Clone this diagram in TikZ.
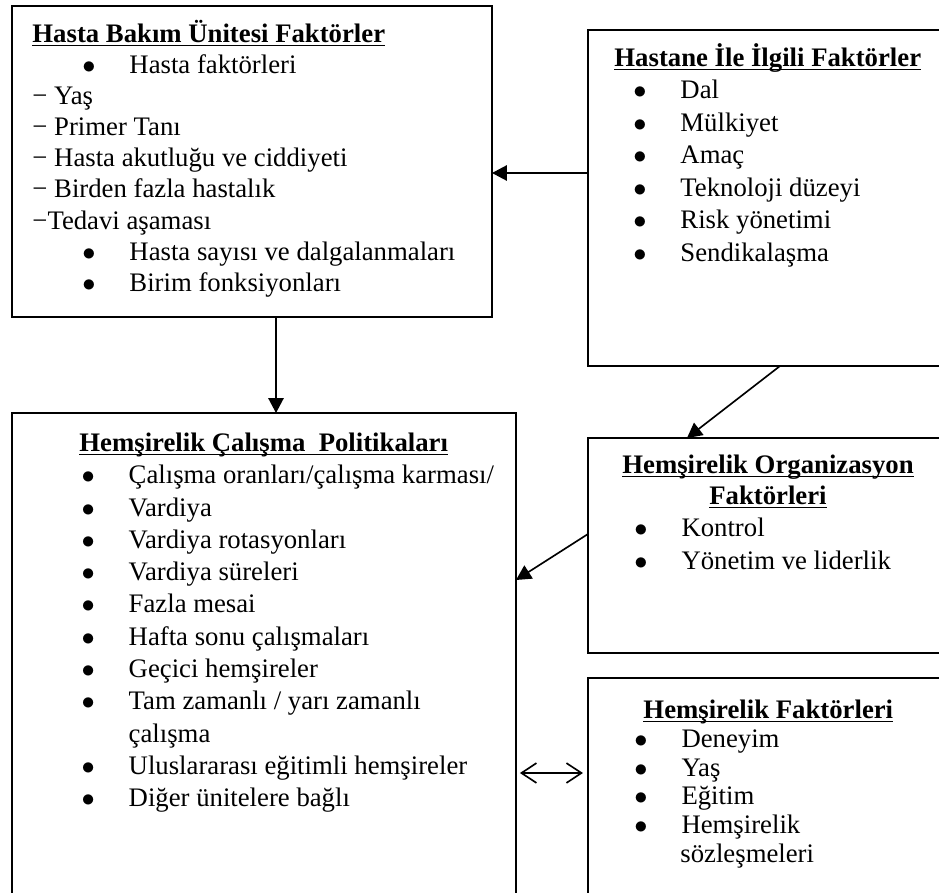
\documentclass[tikz,border=0pt]{standalone}
\usepackage{fontspec}
\setmainfont{Liberation Serif}
\usetikzlibrary{arrows.meta}

\newcommand{\pxu}{0.4545pt}
\newcommand{\itm}[2][0pt]{\hspace*{#1}\makebox[21.4pt][l]{$\bullet$}#2}
\newcommand{\ttlul}[1]{\setbox0\hbox{\textbf{#1}}\rlap{\rule[-1.8pt]{\wd0}{0.8pt}}\box0}
\newcommand{\topstrut}{\rule{0pt}{12pt}}

\tikzset{
  box/.style={draw, line width=0.9pt, rectangle, anchor=north west, inner sep=0pt, outer sep=0pt},
  txt/.style={anchor=north west, inner sep=0pt, align=left},
  lines/.style={font={\fontsize{12.15}{#1}\selectfont\lineskiplimit=-20pt}},
  arr/.style={-{Triangle[length=6.8pt,width=7pt]}, line width=0.75pt},
  dblarr/.style={{Straight Barb[length=6.8pt,width=9pt]}-{Straight Barb[length=6.8pt,width=9pt]}, line width=0.75pt},
}

\begin{document}
\begin{tikzpicture}[x=0.4545pt, y=-0.4545pt]
  \useasboundingbox (0,0) rectangle (939,893);
  \clip (0,0) rectangle (939,893);

  \node[box, minimum width=480*\pxu, minimum height=311*\pxu] (bakim) at (12,6) {};
  \node[box, minimum width=380*\pxu, minimum height=336*\pxu] (hastane) at (588,30) {};
  \node[box, minimum width=504*\pxu, minimum height=510*\pxu] (politika) at (12,413) {};
  \node[box, minimum width=380*\pxu, minimum height=215*\pxu] (orgfak) at (588,438) {};
  \node[box, minimum width=380*\pxu, minimum height=240*\pxu] (hemfak) at (588,678) {};

  \node[txt, lines=14.14] (bakimtxt) at (32,15.6) {\topstrut\ttlul{Hasta Bakım Ünitesi Faktörler}\\
    \itm[22.7pt]{Hasta faktörleri}\\
    − Yaş\\
    − Primer Tanı\\
    − Hasta akutluğu ve ciddiyeti\\
    − Birden fazla hastalık\\
    −Tedavi aşaması\\
    \itm[22.7pt]{Hasta sayısı ve dalgalanmaları}\\
    \itm[22.7pt]{Birim fonksiyonları}};

  \node[txt, lines=14.77] (hastanetxt) at (614,39.6) {\topstrut\ttlul{Hastane İle İlgili Faktörler}\\
    \itm[8.6pt]{Dal}\\
    \itm[8.6pt]{Mülkiyet}\\
    \itm[8.6pt]{Amaç}\\
    \itm[8.6pt]{Teknoloji düzeyi}\\
    \itm[8.6pt]{Risk yönetimi}\\
    \itm[8.6pt]{Sendikalaşma}};

  \node[txt, lines=14.68] (politikatxt) at (79,424.6) {\topstrut\ttlul{Hemşirelik Çalışma\ \ Politikaları}\\
    \itm[1pt]{Çalışma oranları/çalışma karması/}\\
    \itm[1pt]{Vardiya}\\
    \itm[1pt]{Vardiya rotasyonları}\\
    \itm[1pt]{Vardiya süreleri}\\
    \itm[1pt]{Fazla mesai}\\
    \itm[1pt]{Hafta sonu çalışmaları}\\
    \itm[1pt]{Geçici hemşireler}\\
    \itm[1pt]{Tam zamanlı / yarı zamanlı}\\
    \hspace*{22.4pt}çalışma\\
    \itm[1pt]{Uluslararası eğitimli hemşireler}\\
    \itm[1pt]{Diğer ünitelere bağlı}};

  \node[anchor=north, inner sep=0pt, align=center, lines=14.1] (orgbaslik) at (768,446.6)
    {\topstrut\ttlul{Hemşirelik Organizasyon}\\\ttlul{Faktörleri}};
  \node[txt, lines=15] (orgtxt) at (634,509.6) {\topstrut\itm{Kontrol}\\
    \itm{Yönetim ve liderlik}};

  \node[txt, lines=13.1] (hemfaktxt) at (634,691.6) {\topstrut\hspace*{4.1pt}\ttlul{Hemşirelik Faktörleri}\\
    \itm{Deneyim}\\
    \itm{Yaş}\\
    \itm{Eğitim}\\
    \itm{Hemşirelik}\\
    \hspace*{20.9pt}sözleşmeleri};

  \draw[arr] (hastane.west |- 0,173) -- (bakim.east |- 0,173);
  \draw[arr] (bakim.south -| 276,0) -- (politika.north -| 276,0);
  \draw[arr] (hastane.south -| 780,0) -- (orgfak.north -| 687,0);
  \draw[arr] (orgfak.west |- 0,534) -- (politika.east |- 0,580);
  \draw[dblarr, shorten <=1.8pt, shorten >=2.3pt] (politika.east |- 0,773) -- (hemfak.west |- 0,773);
\end{tikzpicture}
\end{document}
